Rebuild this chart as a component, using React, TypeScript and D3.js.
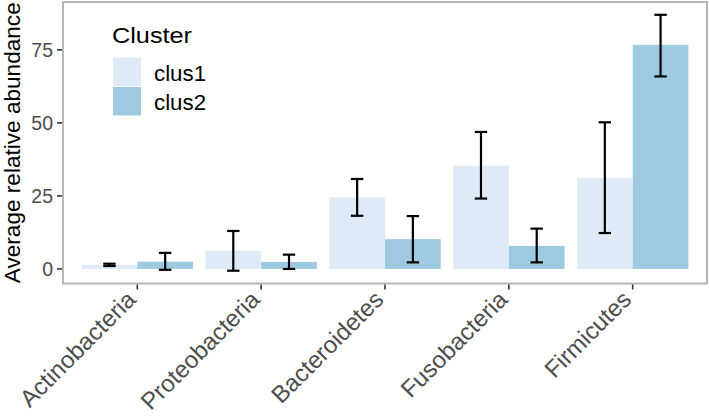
import React from "react";
import * as d3 from "d3";

const categories = ["Actinobacteria", "Proteobacteria", "Bacteroidetes", "Fusobacteria", "Firmicutes"];
const seriesNames = ["clus1", "clus2"];
const clus1Mean = [1.4, 6.2, 24.5, 35.4, 31.1];
const clus1Lower = [1.0, -0.6, 18.2, 24.1, 12.3];
const clus1Upper = [1.8, 13.0, 30.8, 46.9, 50.2];
const clus2Mean = [2.5, 2.4, 10.2, 7.9, 76.7];
const clus2Lower = [-0.3, 0.0, 2.25, 2.25, 65.9];
const clus2Upper = [5.5, 4.9, 18.1, 13.8, 87.0];
const yTicks = [0, 25, 50, 75];
const colors = ["#DEEBF7", "#9ECAE1"];

const W = 709;
const H = 416;
const panel = { left: 63, right: 707, top: 2, bottom: 283.5 };

export default function App() {
  const n = categories.length;
  const x = d3.scaleLinear().domain([-0.6, n - 1 + 0.6]).range([panel.left, panel.right]);
  const step = x(1) - x(0);
  const allVals = [...clus1Lower, ...clus1Upper, ...clus2Lower, ...clus2Upper, ...clus1Mean, ...clus2Mean, 0];
  const lo = d3.min(allVals)!;
  const hi = d3.max(allVals)!;
  const pad = (hi - lo) * 0.05;
  const y = d3.scaleLinear().domain([lo - pad, hi + pad]).range([panel.bottom, panel.top]);

  const series = [
    { name: seriesNames[0], mean: clus1Mean, lower: clus1Lower, upper: clus1Upper, color: colors[0] },
    { name: seriesNames[1], mean: clus2Mean, lower: clus2Lower, upper: clus2Upper, color: colors[1] },
  ];
  const barW = step * 0.45;
  const capW = step * 0.1;
  const font = "'Liberation Sans', Arial, Helvetica, sans-serif";

  return (
    <svg width={W} height={H} style={{ position: "absolute", left: 0, top: 0, background: "#fff" }} fontFamily={font}>
      <rect x={0} y={0} width={W} height={H} fill="#fff" />
      {/* bars */}
      {series.map((s, si) =>
        categories.map((c, i) => {
          const x0 = x(i) - barW + si * barW;
          const yTop = y(Math.max(s.mean[i], 0));
          const yBot = y(0);
          return <rect key={s.name + c} x={x0} y={yTop} width={barW} height={yBot - yTop} fill={s.color} />;
        })
      )}
      {/* error bars */}
      {series.map((s, si) =>
        categories.map((c, i) => {
          const cx = x(i) - barW / 2 + si * barW;
          const y1 = y(s.upper[i]);
          const y2 = y(s.lower[i]);
          return (
            <g key={"e" + s.name + c} stroke="#000" strokeWidth={2.2} fill="none">
              <line x1={cx} x2={cx} y1={y1} y2={y2} />
              <line x1={cx - capW / 2} x2={cx + capW / 2} y1={y1} y2={y1} />
              <line x1={cx - capW / 2} x2={cx + capW / 2} y1={y2} y2={y2} />
            </g>
          );
        })
      )}
      {/* panel border */}
      <rect
        x={panel.left}
        y={panel.top}
        width={panel.right - panel.left}
        height={panel.bottom - panel.top}
        fill="none"
        stroke="#B5B5B5"
        strokeWidth={2}
      />
      {/* y axis */}
      {yTicks.map((t) => (
        <g key={"y" + t}>
          <line x1={panel.left - 6} x2={panel.left - 1} y1={y(t)} y2={y(t)} stroke="#333" strokeWidth={1.6} />
          <text x={panel.left - 10} y={y(t)} dy="0.36em" textAnchor="end" fontSize={19.5} fill="#4D4D4D">
            {t}
          </text>
        </g>
      ))}
      <text
        transform={`translate(20, ${(panel.top + panel.bottom) / 2}) rotate(-90)`}
        textAnchor="middle"
        fontSize={22.6}
        fill="#000"
      >
        Average relative abundance
      </text>
      {/* x axis */}
      {categories.map((c, i) => (
        <g key={"x" + c}>
          <line x1={x(i)} x2={x(i)} y1={panel.bottom + 1} y2={panel.bottom + 6} stroke="#333" strokeWidth={1.6} />
          <text
            transform={`translate(${x(i)}, 301) rotate(-45)`}
            textAnchor="end"
            fontSize={24}
            fill="#4D4D4D"
          >
            {c}
          </text>
        </g>
      ))}
      {/* legend */}
      <text x={112} y={43} fontSize={22} fill="#000" textLength={80} lengthAdjust="spacingAndGlyphs">
        Cluster
      </text>
      {series.map((s, si) => (
        <g key={"l" + s.name}>
          <rect x={113} y={57.5 + si * 29.5} width={28} height={28.5} fill={s.color} />
          <text x={154} y={80.5 + si * 29.5} fontSize={22.3} fill="#000">
            {s.name}
          </text>
        </g>
      ))}
    </svg>
  );
}
